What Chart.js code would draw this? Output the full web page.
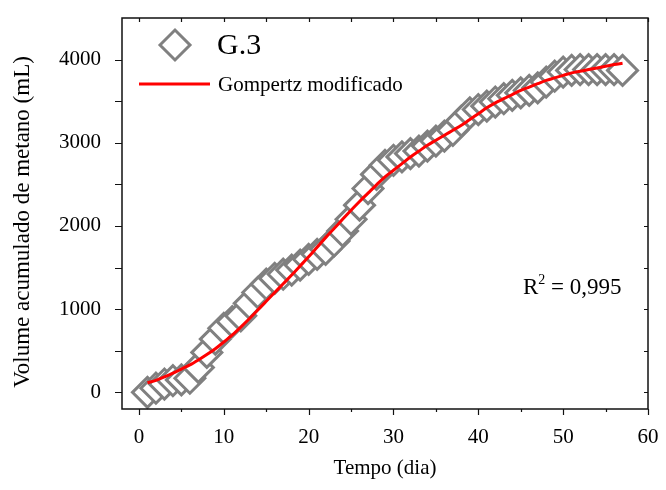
<!DOCTYPE html>
<html>
<head>
<meta charset="utf-8">
<script src="https://cdn.jsdelivr.net/npm/chart.js@4"></script>
<style>
  html, body { margin: 0; padding: 0; background: #fff; }
  canvas { display: block; }
</style>
</head>
<body>
<canvas id="chart" width="666" height="490"></canvas>
<script>
// days of digestion
const days = [1, 2, 3, 4, 5, 6, 7, 8, 9, 10, 11, 12, 13, 14, 15, 16, 17, 18, 19, 20,
  21, 22, 23, 24, 25, 26, 27, 28, 29, 30, 31, 32, 33, 34, 35, 36, 37, 38, 39, 40,
  41, 42, 43, 44, 45, 46, 47, 48, 49, 50, 51, 52, 53, 54, 55, 56, 57]

// G.3 measured cumulative methane (mL)
const measured = [0, 50, 100, 140, 150, 170, 300, 480, 640, 770, 850, 920, 1070, 1200, 1300, 1370, 1420, 1470, 1530, 1600,
  1660, 1720, 1820, 1940, 2080, 2250, 2450, 2620, 2730, 2790, 2830, 2870, 2900, 2960, 3020, 3080, 3150, 3260, 3360, 3400,
  3440, 3490, 3530, 3570, 3600, 3630, 3660, 3730, 3800, 3850, 3870, 3880, 3880, 3880, 3880, 3880, 3870]

// modified Gompertz curve
const fitted = [115, 145, 185, 230, 280, 330, 390, 455, 525, 605, 690, 785, 885, 990, 1095, 1200, 1305, 1410, 1520, 1630,
  1745, 1860, 1970, 2080, 2190, 2295, 2395, 2495, 2590, 2670, 2750, 2830, 2900, 2970, 3030, 3090, 3150, 3210, 3280, 3350,
  3420, 3480, 3530, 3580, 3630, 3670, 3710, 3750, 3780, 3810, 3840, 3860, 3880, 3900, 3920, 3940, 3955]

const xTicks = [0, 10, 20, 30, 40, 50, 60]
const xMinorTicks = [5, 15, 25, 35, 45, 55]
const yTicks = [0, 1000, 2000, 3000, 4000]
const yMinorTicks = [500, 1500, 2500, 3500]

const serif = 'Liberation Serif'
Chart.defaults.font.family = serif
Chart.defaults.color = '#000'

// frame, tick marks, legend, y title and R2 text
const framePlugin = {
  id: 'frame',
  afterDraw(chart) {
    const { ctx, chartArea: a, scales } = chart
    const x = scales.x
    const y = scales.y
    ctx.save()
    ctx.strokeStyle = '#111'
    ctx.lineWidth = 1.5
    ctx.strokeRect(a.left, a.top, a.right - a.left, a.bottom - a.top)

    ctx.lineWidth = 1.2
    ctx.beginPath()
    xTicks.forEach((v) => {
      const px = Math.round(x.getPixelForValue(v)) + 0.5
      ctx.moveTo(px, a.bottom); ctx.lineTo(px, a.bottom + 6)
      ctx.moveTo(px, a.top); ctx.lineTo(px, a.top + 4)
    })
    xMinorTicks.forEach((v) => {
      const px = Math.round(x.getPixelForValue(v)) + 0.5
      ctx.moveTo(px, a.bottom); ctx.lineTo(px, a.bottom + 3)
      ctx.moveTo(px, a.top); ctx.lineTo(px, a.top + 4)
    })
    yTicks.concat(yMinorTicks).forEach((v) => {
      const py = Math.round(y.getPixelForValue(v)) + 0.5
      ctx.moveTo(a.left - 7, py); ctx.lineTo(a.left, py)
      ctx.moveTo(a.right, py); ctx.lineTo(a.right - 4, py)
    })
    ctx.stroke()

    // legend
    ctx.strokeStyle = '#808080'
    ctx.fillStyle = '#fff'
    ctx.lineWidth = 3
    ctx.beginPath()
    ctx.moveTo(160, 45); ctx.lineTo(175, 30); ctx.lineTo(190, 45); ctx.lineTo(175, 60)
    ctx.closePath()
    ctx.fill(); ctx.stroke()
    ctx.strokeStyle = '#ff0000'
    ctx.lineWidth = 3
    ctx.beginPath()
    ctx.moveTo(139, 84); ctx.lineTo(210, 84)
    ctx.stroke()

    ctx.fillStyle = '#000'
    ctx.textBaseline = 'middle'
    ctx.textAlign = 'left'
    ctx.font = `30px "${serif}"`
    ctx.fillText('G.3', 217, 46)
    ctx.font = `21px "${serif}"`
    ctx.fillText('Gompertz modificado', 218, 85)

    // y axis title
    ctx.save()
    ctx.translate(23, 222)
    ctx.rotate(-Math.PI / 2)
    ctx.textAlign = 'center'
    ctx.font = `23px "${serif}"`
    ctx.fillText('Volume acumulado de metano (mL)', 0, 0)
    ctx.restore()

    // R2
    ctx.textBaseline = 'alphabetic'
    ctx.font = `23px "${serif}"`
    ctx.fillText('R', 523, 294)
    const rw = ctx.measureText('R').width
    ctx.font = `14px "${serif}"`
    ctx.fillText('2', 523 + rw, 284)
    const sw = ctx.measureText('2').width
    ctx.font = `23px "${serif}"`
    ctx.fillText(' = 0,995', 523 + rw + sw, 294)
    ctx.restore()
  },
}

const ctx = document.getElementById('chart').getContext('2d')
const chart = new Chart(ctx, {
  type: 'line',
  data: {
    datasets: [
      {
        label: 'Gompertz modificado',
        data: days.map((d, i) => ({ x: d, y: fitted[i] })),
        borderColor: '#ff0000',
        borderWidth: 3,
        pointRadius: 0,
        cubicInterpolationMode: 'monotone',
        order: 0,
      },
      {
        label: 'G.3',
        data: days.map((d, i) => ({ x: d, y: measured[i] })),
        showLine: false,
        pointStyle: 'rectRot',
        pointRadius: 15,
        pointBorderWidth: 3,
        pointBorderColor: '#808080',
        pointBackgroundColor: '#fff',
        clip: false,
        order: 1,
      },
    ],
  },
  options: {
    responsive: false,
    devicePixelRatio: 1,
    animation: false,
    layout: { padding: { left: 0, top: 13, right: 15, bottom: 0 } },
    plugins: { legend: { display: false }, tooltip: { enabled: false } },
    scales: {
      x: {
        type: 'linear',
        min: -2,
        max: 60,
        afterFit(scale) {
          scale.height = 81
          scale.paddingLeft = 0
          scale.paddingRight = 0
        },
        afterBuildTicks(scale) { scale.ticks = xTicks.map((v) => ({ value: v })) },
        grid: { display: false, drawTicks: false },
        border: { display: false },
        ticks: { font: { size: 21 }, padding: 16, maxRotation: 0, callback: (v) => String(v) },
        title: { display: true, text: 'Tempo (dia)', font: { size: 21 }, padding: { top: 0, bottom: 9 } },
      },
      y: {
        min: -200,
        max: 4500,
        afterFit(scale) {
          scale.width = 122
          scale.paddingTop = 0
          scale.paddingBottom = 0
        },
        afterBuildTicks(scale) { scale.ticks = yTicks.map((v) => ({ value: v })) },
        grid: { display: false, drawTicks: false },
        border: { display: false },
        ticks: { font: { size: 21 }, padding: 21, callback: (v) => String(v) },
        title: { display: false },
      },
    },
  },
  plugins: [framePlugin],
})
</script>
</body>
</html>
